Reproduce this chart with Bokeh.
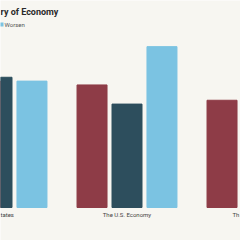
from bokeh.plotting import figure
from bokeh.models import Range1d, Label
from bokeh.embed import file_html
from bokeh.resources import INLINE

# Data (percent of respondents); only the visible parts of labels are kept
categories = ["tates", "The U.S. Economy", "Th"]
series_names = ["Better", "Same", "Worsen"]
better = [33, 32, 28]
same = [34, 27, 35]
worsen = [33, 42, 37]
colors = ["#8E3C47", "#2D4E5D", "#7BC3E2"]

BG = "#F7F6F1"
GROUP_PX = 130.0   # px per category
PX_PER_UNIT = 3.83 # px per percent
BASE_PY = 207.0

def xd(px):
    return (px + 3.5) / GROUP_PX

def yd(py):
    return (BASE_PY - py) / PX_PER_UNIT

p = figure(width=240, height=240, output_backend="svg", toolbar_location=None,
           x_range=Range1d(xd(0), xd(240)), y_range=Range1d(yd(240), yd(0)),
           min_border=0, min_border_left=0, min_border_right=0,
           min_border_top=0, min_border_bottom=0)
p.background_fill_color = BG
p.border_fill_color = BG
p.outline_line_color = None
p.xaxis.visible = False
p.yaxis.visible = False
p.xgrid.visible = False
p.ygrid.visible = False

offsets = [-0.269, 0.0, 0.269]
bw = 30 / GROUP_PX
for vals, off, col, name in zip([better, same, worsen], offsets, colors, series_names):
    xs = [i + off for i in range(len(categories))]
    p.vbar(x=xs, top=vals, bottom=0, width=bw, fill_color=col,
           line_color=col, line_width=1)

# category labels (clipped views of the full labels)
label_specs = [(xd(0), "left"), (1, "center"), (xd(232), "left")]
for (lx, al), c in zip(label_specs, categories):
    p.add_layout(Label(x=lx, y=yd(214), text=c, text_align=al,
                       text_baseline="middle", text_font_size="6px",
                       text_color="#444444", text_font="Roboto"))

# title (visible part)
p.add_layout(Label(x=xd(0), y=yd(11), text="ry of Economy", text_align="left",
                   text_baseline="middle", text_font_size="9px",
                   text_font_style="bold", text_color="#2a2a2a",
                   text_font="Roboto"))

# legend item (visible part)
p.rect(x=[xd(1)], y=[yd(24)], width=4, height=4, width_units="screen",
       height_units="screen", fill_color=colors[2], line_color=None)
p.add_layout(Label(x=xd(4), y=yd(24), text="Worsen", text_align="left",
                   text_baseline="middle", text_font_size="6px",
                   text_color="#555555", text_font="Roboto"))

open("out.html", "w").write(file_html(p, INLINE))
